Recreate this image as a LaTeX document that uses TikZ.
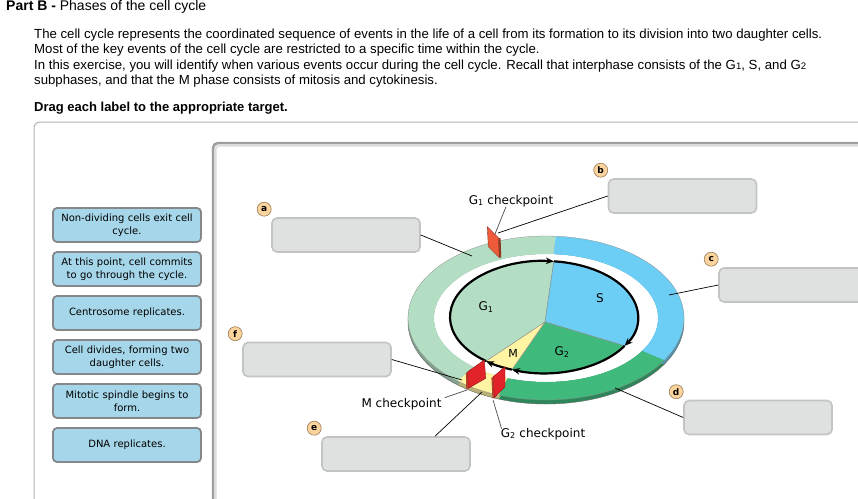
\documentclass[tikz,border=0pt]{standalone}
\usepackage{fontspec}
\setmainfont{Liberation Sans}
\newfontfamily\vfont{DejaVu Sans}
\usetikzlibrary{arrows.meta,calc,positioning}
\definecolor{lblue}{HTML}{A6D6E9}
\definecolor{lbedge}{HTML}{84888A}
\definecolor{tgfill}{HTML}{DFE1E1}
\definecolor{tgedge}{HTML}{C2C4C4}
\definecolor{bdfill}{HTML}{FBD39C}
\definecolor{bdedge}{HTML}{9A7A55}
\definecolor{g1col}{HTML}{B3DEC3}
\definecolor{scol}{HTML}{6CCEF5}
\definecolor{g2col}{HTML}{3FBA7C}
\definecolor{mcol}{HTML}{FFF4A3}
\definecolor{gate}{HTML}{E3232A}
\definecolor{gateside}{HTML}{B8452A}
\definecolor{gone}{HTML}{EE5B3B}
\begin{document}
\begin{tikzpicture}[x=1pt,y=-1pt,
  every node/.style={inner sep=0pt},
  labelbox/.style={draw=lbedge,line width=1.8pt,fill=lblue,rounded corners=4pt,minimum width=148pt,minimum height=34pt,text width=146pt,align=center,font=\vfont\fontsize{10}{13}\selectfont},
  target/.style={draw=tgedge,line width=1.6pt,fill=tgfill,rounded corners=5pt,minimum width=148pt,minimum height=34pt},
  badge/.style={circle,draw=bdedge,line width=0.6pt,fill=bdfill,minimum size=14pt,font=\vfont\bfseries\fontsize{9}{9}\selectfont},
  cptext/.style={font=\vfont\fontsize{12}{14}\selectfont},
  leader/.style={line width=0.7pt},
  cyc/.style={line width=2.2pt,-{Stealth[length=8pt,width=6.5pt]}}]
\useasboundingbox (0,0) rectangle (858,498);
\node[anchor=base west,font=\fontsize{14}{16}\selectfont] (title) at (6,10) {\textbf{Part B -} Phases of the cell cycle};
\foreach \t [count=\i] in {{The cell cycle represents the coordinated sequence of events in the life of a cell from its formation to its division into two daughter cells.},
  {Most of the key events of the cell cycle are restricted to a specific time within the cycle.},
  {In this exercise, you will identify when various events occur during the cell cycle. Recall that interphase consists of the G{\fontsize{9.5}{9}\selectfont 1}, S, and G{\fontsize{9.5}{9}\selectfont 2}},
  {subphases, and that the M phase consists of mitosis and cytokinesis.}}
  \node[anchor=base west,font=\fontsize{13.2}{15}\selectfont] (line\i) at (34,22.5+15.5*\i) {\t};
\node[anchor=base west,font=\bfseries\fontsize{13}{15}\selectfont] (drag) at (34,111) {Drag each label to the appropriate target.};
\draw[black!30,line width=1pt,rounded corners=6pt] (34,122) rectangle (900,540);
\draw[black!38,line width=2.5pt,rounded corners=5pt] (213,143) rectangle (900,540);
\draw[black!14,line width=2pt,rounded corners=4pt] (215.5,145.5) rectangle (900,540);
\foreach \t [count=\i] in {{Non-dividing cells exit cell\\cycle.},{At this point, cell commits\\to go through the cycle.},{Centrosome replicates.},
  {Cell divides, forming two\\daughter cells.},{Mitotic spindle begins to\\form.},{DNA replicates.}}
  \node[labelbox] (lb\i) at (127,181+44*\i) {\t};
\foreach \n/\x/\y in {a/346/235,b/682.5/196,c/793/285,d/758/417.5,e/396/454,f/317/359.5} {
  \node[target] (t\n) at (\x,\y) {};
  \node[badge] (b\n) at ($(t\n.north west)+(-7,-8)$) {\n};
}
\foreach \ta/\tb/\c in {110/130/mcol,130/274/g1col,274/391/scol,391/470/g2col}
  \fill[\c!72!black] (546,322) -- ([shift={(546,322)}]\ta:138 and 82) arc[start angle=\ta,end angle=\tb,x radius=138,y radius=82] -- cycle;
\draw[black!60,line width=0.4pt] (546,322) ellipse[x radius=138,y radius=82];
\fill[white] (546,318) ellipse[x radius=112,y radius=64];
\foreach \ta/\tb/\c in {110/130/mcol,130/274/g1col,274/391/scol,391/470/g2col}
  \fill[\c] ([shift={(546,318)}]\ta:138 and 82) arc[start angle=\ta,end angle=\tb,x radius=138,y radius=82] -- ([shift={(546,318)}]\tb:112 and 64) arc[start angle=\tb,end angle=\ta,x radius=112,y radius=64] -- cycle;
\draw[black!45,line width=0.3pt] (546,318) ellipse[x radius=138,y radius=82];
\foreach \ta/\tb/\c in {128/276/g1col,276/391/scol,391/470/g2col,110/128/mcol}
  \filldraw[fill=\c,draw=black!45,line width=0.4pt] (545,322) -- ([shift={(544,317)}]\ta:94 and 56) arc[start angle=\ta,end angle=\tb,x radius=94,y radius=56] -- cycle;
\foreach \ta/\tb in {128/276,276/391,31/110,110/128}
  \draw[cyc] ([shift={(544,317)}]\ta:94 and 56) arc[start angle=\ta,end angle=\tb,x radius=94,y radius=56];
\filldraw[fill=gone,draw=gone!60!black,line width=0.4pt] (487.3,226.7) -- (498.3,237.7) -- (499.3,257.7) -- (488.3,246.7) -- cycle;
\fill[gone!60!black] (498.3,237.7) -- (500.6,238.4) -- (501.2,257.7) -- (499.3,257.7) -- cycle;
\fill[gateside] (465.8,372.8) -- (467.7,371.7) -- (468.3,388.3) -- (466.3,389.3) -- cycle;
\filldraw[fill=gate,draw=gate!60!black,line width=0.4pt] (467.7,371.7) -- (484.3,360) -- (485.7,378.3) -- (468.3,388.3) -- cycle;
\fill[gateside] (491.4,377.8) -- (493.3,376.7) -- (494.3,397.7) -- (492.4,398.6) -- cycle;
\filldraw[fill=gate,draw=gate!60!black,line width=0.4pt] (493.3,376.7) -- (505,366.7) -- (505,386.7) -- (494.3,397.7) -- cycle;
\node[cptext] (lg1) at (486,307) {G\textsubscript{1}};
\node[cptext] (ls) at (600,298) {S};
\node[cptext] (lg2) at (562,352) {G\textsubscript{2}};
\node[cptext,font=\vfont\fontsize{11}{13}\selectfont] (lm) at (513,353) {M};
\node[cptext,anchor=base] (g1cp) at (511,204) {G\textsubscript{1} checkpoint};
\node[cptext,anchor=base] (mcp) at (401.5,407) {M checkpoint};
\node[cptext,anchor=base] (g2cp) at (543,437) {G\textsubscript{2} checkpoint};
\coordinate (pa) at (472,256);
\coordinate (pb) at (498,233);
\coordinate (pc) at (669,295);
\coordinate (pd) at (615,388);
\coordinate (pe) at (482,392);
\coordinate (pf) at (462,380);
\coordinate (pg1) at (495,234);
\coordinate (pm) at (467,390);
\coordinate (pg2) at (493,400);
\draw[leader] (ta.east) -- (pa);
\draw[leader] (tb.west) -- (pb);
\draw[leader] (tc.west) -- (pc);
\draw[leader] (td.west) -- (pd);
\draw[leader] ($(te.north)+(39,0)$) -- (pe);
\draw[leader] (tf.east) -- (pf);
\draw[leader,black!70] ($(g1cp.south)+(-5,0)$) -- (pg1);
\draw[leader,black!70] ($(mcp.east)+(3,-6)$) -- (pm);
\draw[leader,black!70] ($(g2cp.north west)+(1,1)$) -- (pg2);
\end{tikzpicture}
\end{document}
